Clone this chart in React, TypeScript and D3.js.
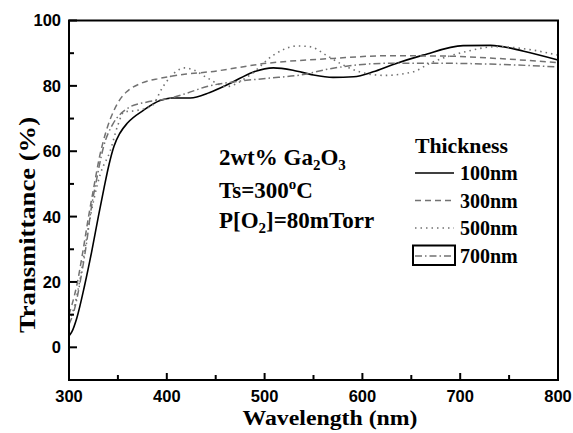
import React from "react";
import * as d3 from "d3";

// ---- data ----
const wl100 = [300, 303, 308, 316, 323, 330, 336, 341, 346, 352, 360, 376, 393, 405, 424, 444, 465, 488, 509, 529, 550, 570, 591, 611, 630, 662, 703, 731, 765, 800];
const t100 = [3.5, 4.8, 9, 19, 29, 40, 49, 56, 61.5, 65.5, 68.7, 72.5, 75.5, 76.3, 76.3, 78, 80.8, 84.2, 85.5, 84.8, 83.3, 82.6, 82.8, 84.3, 86.4, 89.4, 92.3, 92.4, 90.6, 87.9];

const wl300 = [300, 303, 308, 314, 320, 326, 331, 335, 340, 346, 352, 359, 373, 393, 420, 444, 502, 570, 625, 686, 737, 800];
const t300 = [10, 13, 19, 29, 40, 50, 58, 63, 68, 72.5, 75.8, 78.2, 80.7, 82.3, 83.6, 84.3, 86.9, 88.4, 89.2, 89.1, 88.4, 87.1];

const wl500 = [300, 305, 312, 320, 326, 332, 342, 350, 356, 370, 385, 396, 410, 418, 428, 441, 461, 485, 509, 533, 546, 563, 577, 597, 622, 652, 669, 706, 737, 771, 800];
const t500 = [8, 12, 22, 37, 46, 53, 60, 68, 72, 72.5, 74, 79.7, 84.5, 85.5, 84.8, 82.5, 79.8, 83.3, 89.4, 92.2, 92, 89.4, 86.9, 84.3, 83.2, 84.3, 86.9, 90.5, 92, 91.1, 89.4];

const wl700 = [300, 305, 312, 318, 323, 328, 335, 345, 353, 362, 379, 403, 420, 441, 468, 502, 536, 570, 625, 686, 737, 800];
const t700 = [7, 11, 21, 32, 43, 51, 61, 68.4, 71.5, 73.5, 75, 76.2, 77.7, 79.8, 81.2, 82.3, 83.3, 85.4, 86.9, 86.9, 86.6, 85.8];

const seriesNames = ["100nm", "300nm", "500nm", "700nm"];
const xTicks = [300, 400, 500, 600, 700, 800];
const xMinor = [350, 450, 550, 650, 750];
const yTicks = [0, 20, 40, 60, 80, 100];
const yMinor = [10, 30, 50, 70, 90];

const serif = "'Liberation Serif', 'Times New Roman', serif";
const sans = "'Liberation Sans', Arial, sans-serif";

export default function App() {
  const x = d3.scaleLinear().domain([300, 800]).range([69, 558]);
  const y = d3.scaleLinear().domain([-10, 100]).range([380, 20.5]);

  const line = d3
    .line<[number, number]>()
    .x((d) => x(d[0]))
    .y((d) => y(d[1]))
    .curve(d3.curveMonotoneX);

  const zip = (a: number[], b: number[]) => a.map((v, i) => [v, b[i]] as [number, number]);

  const styles = [
    { stroke: "#000", dash: "none", width: 1.6 },
    { stroke: "#727272", dash: "6,4", width: 1.5 },
    { stroke: "#727272", dash: "1.5,4", width: 1.6 },
    { stroke: "#727272", dash: "7,3,1.5,3", width: 1.5 },
  ];
  const data = [zip(wl100, t100), zip(wl300, t300), zip(wl500, t500), zip(wl700, t700)];

  const legY = [173, 200.5, 228, 256];

  return (
    <svg
      width={573}
      height={433}
      style={{ position: "fixed", left: 0, top: 0, background: "#fff" }}
    >
      <rect width={573} height={433} fill="#fff" />
      {/* curves */}
      <g fill="none">
        {data.map((d, i) => (
          <path
            key={i}
            d={line(d) || ""}
            stroke={styles[i].stroke}
            strokeWidth={styles[i].width}
            strokeDasharray={styles[i].dash}
          />
        ))}
      </g>
      {/* frame */}
      <rect x={69} y={20.5} width={558 - 69} height={380 - 20.5} fill="none" stroke="#000" strokeWidth={2} />
      {/* ticks */}
      <g stroke="#000" strokeWidth={2}>
        {xTicks.map((t) => (
          <line key={"xt" + t} x1={x(t)} x2={x(t)} y1={380} y2={373} />
        ))}
        {xMinor.map((t) => (
          <line key={"xm" + t} x1={x(t)} x2={x(t)} y1={380} y2={375} />
        ))}
        {yTicks.map((t) => (
          <line key={"yt" + t} x1={69} x2={77} y1={y(t)} y2={y(t)} />
        ))}
        {yMinor.map((t) => (
          <line key={"ym" + t} x1={69} x2={74} y1={y(t)} y2={y(t)} />
        ))}
      </g>
      {/* tick labels */}
      <g fontFamily={sans} fontWeight="bold" fontSize={16.5} fill="#000">
        {xTicks.map((t) => (
          <text key={"xl" + t} x={x(t)} y={402} textAnchor="middle">
            {t}
          </text>
        ))}
        {yTicks.map((t) => (
          <text key={"yl" + t} x={61} y={y(t)} dy="0.36em" textAnchor="end">
            {t}
          </text>
        ))}
      </g>
      {/* axis titles */}
      <text
        x={330}
        y={425}
        textAnchor="middle"
        fontFamily={serif}
        fontWeight="bold"
        fontSize={20.5}
        textLength={175}
        lengthAdjust="spacingAndGlyphs"
      >
        Wavelength (nm)
      </text>
      <text
        transform="translate(35,225) rotate(-90)"
        textAnchor="middle"
        fontFamily={serif}
        fontWeight="bold"
        fontSize={24}
        textLength={216}
        lengthAdjust="spacingAndGlyphs"
      >
        Transmittance (%)
      </text>
      {/* annotations */}
      <g fontFamily={serif} fontWeight="bold" fontSize={23} fill="#000">
        <text x={219} y={165}>
          2wt% Ga<tspan fontSize={15} dy={5}>2</tspan>
          <tspan dy={-5}>O</tspan>
          <tspan fontSize={15} dy={5}>3</tspan>
        </text>
        <text x={219} y={198.3}>
          Ts=300<tspan fontSize={15} dy={-9}>o</tspan>
          <tspan dy={9}>C</tspan>
        </text>
        <text x={219} y={228.3}>
          P[O<tspan fontSize={15} dy={5}>2</tspan>
          <tspan dy={-5}>]=80mTorr</tspan>
        </text>
      </g>
      {/* legend */}
      <g fontFamily={serif} fontWeight="bold" fontSize={20} fill="#000">
        <text x={415} y={153} textLength={93} lengthAdjust="spacingAndGlyphs">
          Thickness
        </text>
        <rect x={413} y={245.5} width={42} height={19.5} fill="none" stroke="#000" strokeWidth={2} />
        {seriesNames.map((n, i) => (
          <g key={n}>
            <line
              x1={415}
              x2={454}
              y1={legY[i]}
              y2={legY[i]}
              stroke={styles[i].stroke}
              strokeWidth={styles[i].width}
              strokeDasharray={styles[i].dash}
            />
            <text x={460} y={legY[i] + 7}>
              {n}
            </text>
          </g>
        ))}
      </g>
    </svg>
  );
}
